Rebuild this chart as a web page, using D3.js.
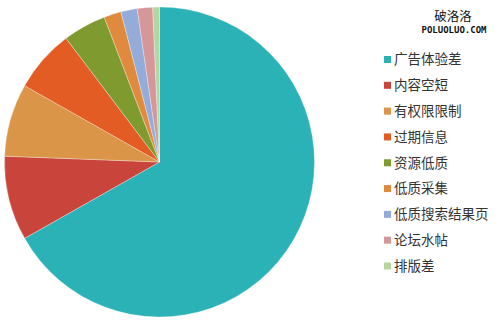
<!DOCTYPE html>
<html>
<head>
<meta charset="utf-8">
<script src="https://cdn.jsdelivr.net/npm/d3@7/dist/d3.min.js"></script>
<style>
  body { margin: 0; background: #fff; }
  text { font-family: "Noto Sans CJK SC", sans-serif; }
</style>
</head>
<body>
<svg id="chart" width="500" height="324"></svg>
<script>
// categories and shares (%), clockwise from 12 o'clock
var categories = ["广告体验差", "内容空短", "有权限限制", "过期信息", "资源低质",
                  "低质采集", "低质搜索结果页", "论坛水帖", "排版差"];
var shares = [66.8, 8.8, 7.6, 6.5, 4.5, 1.8, 1.7, 1.6, 0.7];
var colors = ["#2bb2b6", "#c9443a", "#da9548", "#e35c24", "#7f9b30",
              "#e08a3e", "#93acd9", "#d6979b", "#b7d59c"];

var svg = d3.select("#chart");

var data = categories.map(function (c, i) { return { name: c, value: shares[i] }; });

var pie = d3.pie().sort(null).value(function (d) { return d.value; });
var arc = d3.arc().innerRadius(0).outerRadius(155);

var g = svg.append("g").attr("transform", "translate(159.5,162)");
g.selectAll("path")
    .data(pie(data))
    .enter().append("path")
    .attr("d", arc)
    .attr("fill", function (d, i) { return colors[i]; })
    .attr("stroke", "#fff")
    .attr("stroke-width", 0.5)
    .attr("stroke-opacity", 0.6);

// legend
var legendY = d3.scalePoint().domain(categories).range([59.5, 266]);
var legend = svg.append("g");
var rows = legend.selectAll("g")
    .data(data)
    .enter().append("g")
    .attr("transform", function (d) { return "translate(384," + legendY(d.name) + ")"; });
rows.append("rect")
    .attr("x", 0).attr("y", -3.5)
    .attr("width", 7).attr("height", 7)
    .attr("fill", function (d, i) { return colors[i]; });
rows.append("text")
    .attr("x", 10).attr("y", 0)
    .attr("dy", "0.36em")
    .attr("font-size", 13.5)
    .attr("fill", "#333")
    .text(function (d) { return d.name; });

// watermark
svg.append("text")
    .attr("x", 453).attr("y", 21)
    .attr("text-anchor", "middle")
    .attr("font-size", 12.5)
    .attr("fill", "#111")
    .text("破洛洛");
svg.append("text")
    .attr("x", 454).attr("y", 33)
    .attr("text-anchor", "middle")
    .attr("font-size", 9)
    .style("font-family", "'DejaVu Sans Mono', monospace")
    .style("font-weight", "bold")
    .attr("fill", "#111")
    .text("POLUOLUO.COM");
</script>
</body>
</html>
